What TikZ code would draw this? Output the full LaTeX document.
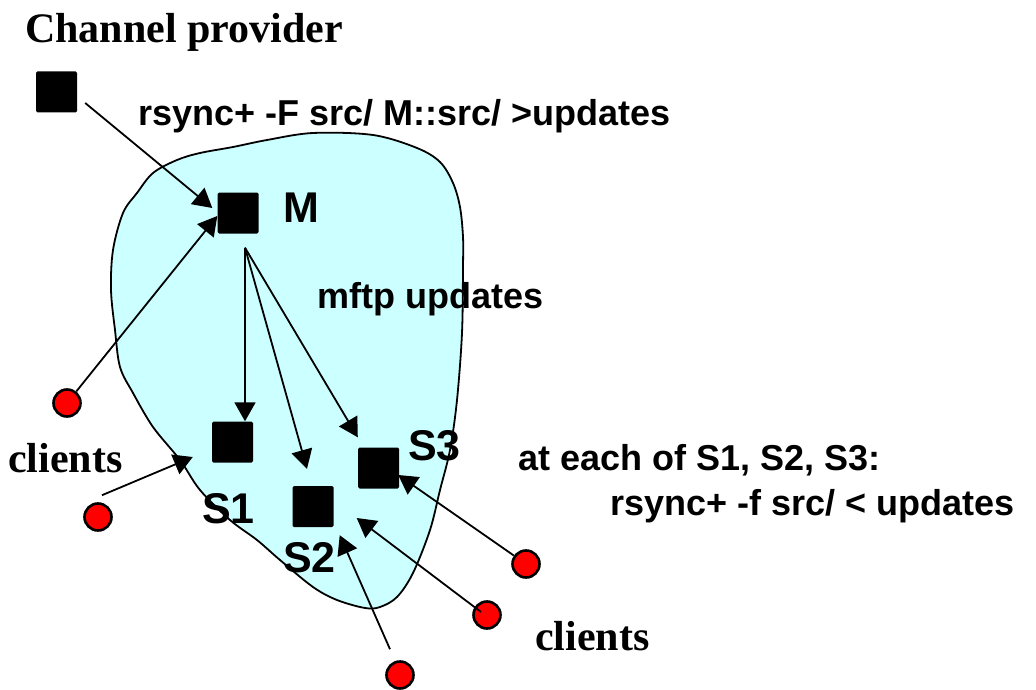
\documentclass[tikz,border=0pt]{standalone}
\usepackage{fontspec}
\setmainfont{Liberation Serif}
\newfontfamily\arialfont{Liberation Sans}
\usetikzlibrary{arrows.meta,calc}
\definecolor{poolcyan}{HTML}{CCFFFF}
\begin{document}
\begin{tikzpicture}[x=1pt,y=-1pt,
  host/.style={fill=black,minimum size=41pt,inner sep=0pt,rounded corners=1.5pt},
  client/.style={circle,draw=black,fill=red,line width=2.6pt,minimum size=27pt,inner sep=0pt},
  arr/.style={line width=1.8pt,-{Triangle[length=19pt,width=21pt]}},
  sans/.style={font=\arialfont\bfseries\fontsize{36}{40}\selectfont,inner sep=0pt,anchor=base west},
  tag/.style={font=\arialfont\bfseries\fontsize{43}{48}\selectfont,inner sep=0pt,anchor=base west},
  serif/.style={font=\bfseries\fontsize{42}{46}\selectfont,inner sep=0pt,anchor=base west}]

\path[use as bounding box] (0,0) rectangle (1036,690);

% the multicast group region
\draw[fill=poolcyan,line width=1.8pt] plot[smooth cycle,tension=0.55] coordinates {
  (113,250) (123,213) (137,193) (153,173) (177,160) (200,153) (233,147)
  (267,140) (313,133) (373,135) (417,148) (440,162) (453,183) (460,207)
  (463,237) (463,267) (462,333) (457,400) (450,450) (440,490) (430,530)
  (413,573) (397,597) (380,607) (365,608) (337,600) (313,587) (280,560)
  (257,540) (230,520) (200,490) (180,460) (153,427) (133,393) (120,367)
  (115,330) (111,290)};

% hosts
\node[host] (P)  at (56.5,92)   {};
\node[host] (M)  at (238,213)   {};
\node[host] (S1) at (232.5,442) {};
\node[host] (S2) at (313,506.5) {};
\node[host] (S3) at (378.5,468) {};

% clients
\node[client] (c1) at (67,403)  {};
\node[client] (c2) at (98,517)  {};
\node[client] (c3) at (400,675) {};
\node[client] (c4) at (487,615) {};
\node[client] (c5) at (526,564) {};

% labels
\node[serif] (title) at (25,43)   {Channel provider};
\node[sans]  (cmd)   at (138,126) {rsync+ -F src/ M::src/ >updates};
\node[sans]  (mftp)  at (317,308) {mftp updates};
\node[sans]  (each)  at (518,470) {at each of S1, S2, S3:};
\node[sans]  (recv)  at (610,515) {rsync+ -f src/ < updates};
\node[serif] (cl1)   at (8,472)   {clients};
\node[serif] (cl2)   at (535,650) {clients};
\node[tag]   (lm)    at (283,222) {M};
\node[tag]   (l1)    at (202,523) {S1};
\node[tag]   (l2)    at (283,572) {S2};
\node[tag]   (l3)    at (408,460) {S3};

% upload from the provider to M
\draw[arr] ([shift={(8,11)}]P.east) -- ([shift={(-5,-5)}]M.west);

% multicast fan-out from M
\coordinate (fan) at ([shift={(7,14)}]M.south);
\draw[arr] (fan) -- (fan |- S1.north);
\draw[arr] (fan) -- ([shift={(-6,-17)}]S2.north);
\draw[arr] (fan) -- ([shift={(0,-10)}]S3.north west);

% client connections
\draw[arr] (c1) -- ([shift={(0,3)}]M.west);
\draw[arr] ([shift={(4,-7)}]c2.north) -- ([shift={(-19,15)}]S1.west);
\draw[arr] ([shift={(-10,-11)}]c3.north) -- ([shift={(6,8)}]S2.south east);
\draw[arr] ([shift={(-6,-3)}]c4.center) -- ([shift={(23,11.5)}]S2.east);
\draw[arr] (c5) -- ([shift={(-1,7)}]S3.east);
\end{tikzpicture}
\end{document}
